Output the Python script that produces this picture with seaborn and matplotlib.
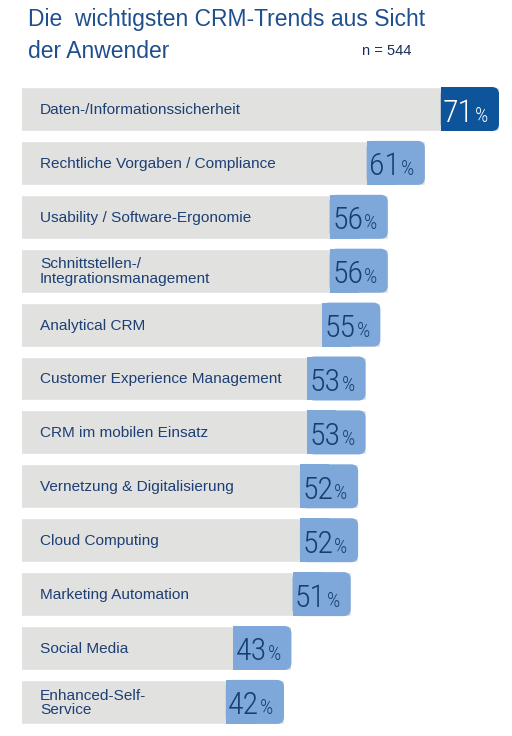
import matplotlib
matplotlib.use("Agg")
import matplotlib.pyplot as plt
from matplotlib.patches import FancyBboxPatch, Rectangle
import seaborn as sns
import pandas as pd

categories = [
    "Daten-/Informationssicherheit",
    "Rechtliche Vorgaben / Compliance",
    "Usability / Software-Ergonomie",
    "Schnittstellen-/\nIntegrationsmanagement",
    "Analytical CRM",
    "Customer Experience Management",
    "CRM im mobilen Einsatz",
    "Vernetzung & Digitalisierung",
    "Cloud Computing",
    "Marketing Automation",
    "Social Media",
    "Enhanced-Self-\nService",
]
values = [71, 61, 56, 56, 55, 53, 53, 52, 52, 51, 43, 42]
title_lines = ["Die  wichtigsten CRM-Trends aus Sicht", "der Anwender"]
n_label = "n = 544"

sns.set_theme(style="white")
plt.rcParams["font.family"] = ["Liberation Sans", "DejaVu Sans"]

GREY = "#e1e1e0"
LIGHT = "#7ea8da"
DARK = "#0d549b"
TXT = "#1d3f74"
NUM_DARK = "#173e6f"
NUM_FONT = ["Roboto Condensed", "Liberation Sans", "DejaVu Sans"]

W, H = 512, 736
fig = plt.figure(figsize=(W / 100, H / 100), dpi=100)
fig.patch.set_facecolor("white")

ax_left_px, ax_top_px, ax_bottom_px = 22, 82, 733
ax = fig.add_axes([ax_left_px / W, (H - ax_bottom_px) / H,
                   1 - ax_left_px / W, (ax_bottom_px - ax_top_px) / H])

df = pd.DataFrame({"cat": categories, "val": values})
sns.barplot(data=df, x="val", y="cat", orient="h", color=GREY,
            saturation=1, width=0.816, ax=ax)

px_per_unit_x = 7.414
zero_px = -27.4
pitch = 53.9
first_center = 109.0
ax.set_xlim((ax_left_px - zero_px) / px_per_unit_x, (W - zero_px) / px_per_unit_x)
ax.set_ylim((ax_bottom_px - first_center) / pitch, (ax_top_px - first_center) / pitch)
ax.axis("off")

box_w = 7.85
half_h = 0.816 / 2
r = 0.95
aspect = px_per_unit_x / pitch
for i, v in enumerate(values):
    col = DARK if i == 0 else LIGHT
    tcol = "white" if i == 0 else NUM_DARK
    box = FancyBboxPatch((v - box_w, i - half_h), box_w, 2 * half_h,
                         boxstyle=f"round,pad=0,rounding_size={r}",
                         mutation_aspect=aspect, facecolor=col,
                         edgecolor="none", zorder=3)
    ax.add_patch(box)
    ax.add_patch(Rectangle((v - box_w, i - half_h), box_w / 2, 2 * half_h,
                           facecolor=col, edgecolor="none", zorder=3))
    cx = v - box_w / 2
    ax.text(cx + 0.6, i + 12.5 / pitch, f"{v}", ha="right", va="baseline",
            fontsize=23, color=tcol, zorder=4, family=NUM_FONT, weight=300)
    ax.text(cx + 0.72, i + 12.5 / pitch, "%", ha="left", va="baseline",
            fontsize=15, color=tcol, zorder=4, family=NUM_FONT, weight=300)
    ax.text((40 - zero_px) / px_per_unit_x, i + 1.0 / pitch, categories[i],
            ha="left", va="center", fontsize=11.1, color=TXT,
            linespacing=1.05, zorder=4)

fig.text(28 / W, 1 - 26 / H, title_lines[0], ha="left", va="baseline",
         fontsize=16.5, color="#1f4f8c")
fig.text(28 / W, 1 - 58 / H, title_lines[1], ha="left", va="baseline",
         fontsize=16.5, color="#1f4f8c")
fig.text(362 / W, 1 - 55 / H, n_label, ha="left", va="baseline",
         fontsize=10.5, color="#1c2f52")

fig.savefig("out.png", dpi=100, facecolor="white")
